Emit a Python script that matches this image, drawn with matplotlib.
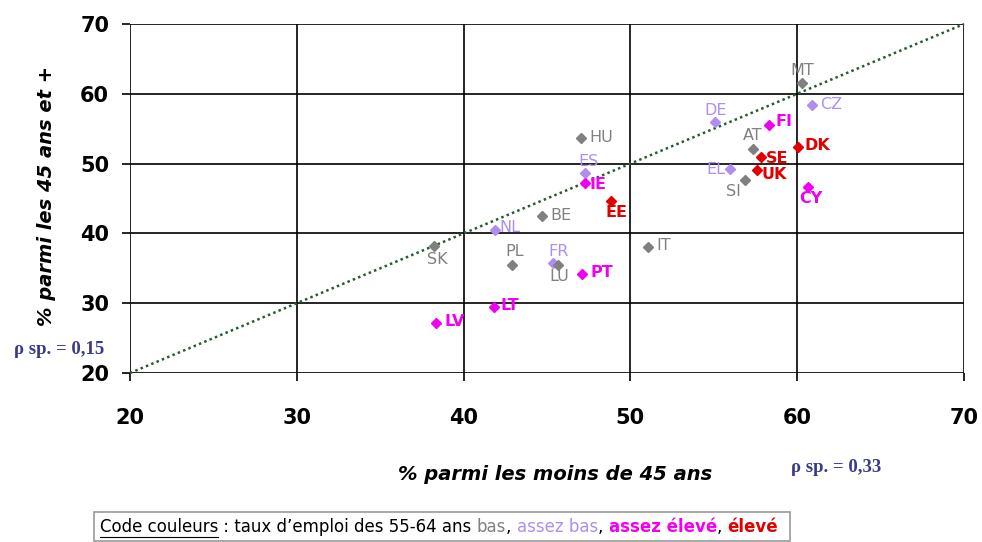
import numpy as np
import matplotlib
matplotlib.use("Agg")
import matplotlib.pyplot as plt

# data
countries = ["MT", "CZ", "DE", "FI", "AT", "DK", "SE", "EL", "UK", "SI", "CY",
             "HU", "ES", "IE", "EE", "BE", "NL", "SK", "PL", "FR", "LU", "PT",
             "IT", "LT", "LV"]
under45 = [60.3, 60.9, 55.1, 58.3, 57.35, 60.05, 57.8, 56.0, 57.6, 56.9, 60.65,
           47.05, 47.3, 47.3, 48.85, 44.7, 41.9, 38.2, 42.9, 45.35, 45.65, 47.1,
           51.05, 41.8, 38.35]
over45 = [61.5, 58.4, 56.0, 55.5, 52.1, 52.4, 50.9, 49.2, 49.1, 47.65, 46.6,
          53.7, 48.65, 47.2, 44.6, 42.5, 40.5, 38.2, 35.5, 35.75, 35.5, 34.2,
          38.05, 29.5, 27.2]
# employment rate class of 55-64: 0 bas, 1 assez bas, 2 assez eleve, 3 eleve
groups = [0, 1, 1, 2, 0, 3, 3, 1, 3, 0, 2,
          0, 1, 2, 3, 0, 1, 0, 0, 1, 0, 2,
          0, 2, 2]
group_names = ["bas", "assez bas", "assez élevé", "élevé"]
ticks = [20, 30, 40, 50, 60, 70]

colors = ["#808080", "#b08ef0", "#f000f0", "#e00000"]

# label offsets in points (dx, dy, ha, va)
offsets = {
    "MT": (0, 4, "center", "bottom"), "CZ": (6, 0, "left", "center"),
    "DE": (0, 3, "center", "bottom"), "FI": (5, 3, "left", "center"),
    "AT": (0, 4, "center", "bottom"), "DK": (5, 1, "left", "center"),
    "SE": (4, -1, "left", "center"), "EL": (-4, 0, "right", "center"),
    "UK": (3, -3, "left", "center"), "SI": (-3, -3, "right", "top"),
    "CY": (2, -3, "center", "top"), "HU": (6, 0, "left", "center"),
    "ES": (2, 3, "center", "bottom"), "IE": (3, -1, "left", "center"),
    "EE": (4, -3, "center", "top"), "BE": (6, 0, "left", "center"),
    "NL": (3, 2, "left", "center"), "SK": (3, -4, "center", "top"),
    "PL": (2, 4, "center", "bottom"), "FR": (4, 3, "center", "bottom"),
    "LU": (1, -3, "center", "top"), "PT": (6, 1, "left", "center"),
    "IT": (6, 1, "left", "center"), "LT": (5, 1, "left", "center"),
    "LV": (6, 1, "left", "center"),
}

fig = plt.figure(figsize=(9.82, 5.42), dpi=100)
ax = fig.add_axes([130 / 982, 1 - 373 / 542, 834 / 982, 349 / 542])

ax.plot([20, 70], [20, 70], linestyle=(0, (1, 1.3)), color="#2a5a30",
        linewidth=1.8, clip_on=False, zorder=2)

for c, x, y, g in zip(countries, under45, over45, groups):
    ax.plot(x, y, marker="D", markersize=5, color=colors[g], zorder=3,
            linestyle="none")
    dx, dy, ha, va = offsets[c]
    ax.annotate(c, (x, y), xytext=(dx, dy), textcoords="offset points",
                ha=ha, va=va, fontsize=11.5, color=colors[g],
                fontweight="bold" if g >= 2 else "normal", zorder=4)

ax.set_xlim(20, 70)
ax.set_ylim(20, 70)
ax.set_xticks(ticks)
ax.set_yticks(ticks)
ax.grid(True, color="black", linewidth=1.2)
ax.set_axisbelow(True)
for s in ax.spines.values():
    s.set_visible(False)
ax.tick_params(axis="y", length=6, width=1.2, labelsize=15, pad=9)
ax.tick_params(axis="x", length=6, width=1.2, labelsize=15, pad=19)
for lab in ax.get_xticklabels() + ax.get_yticklabels():
    lab.set_fontweight("semibold")

fig.text(555 / 982, 1 - 475 / 542, "% parmi les moins de 45 ans",
         ha="center", va="center", fontsize=14, style="italic",
         fontweight="bold")
fig.text(47 / 982, 1 - 196 / 542, "% parmi les 45 ans et +", ha="center",
         va="center", fontsize=14, style="italic", fontweight="bold",
         rotation=90)
fig.text(59 / 982, 1 - 350 / 542, "ρ sp. = 0,15", ha="center", va="center",
         fontsize=13.5, family="Liberation Serif", fontweight="bold",
         color="#3a3a8a")
fig.text(836 / 982, 1 - 468 / 542, "ρ sp. = 0,33", ha="center", va="center",
         fontsize=13.5, family="Liberation Serif", fontweight="bold",
         color="#3a3a8a")

# colour code box
renderer = fig.canvas.get_renderer()
pieces = [("Code couleurs", "black", "normal"),
          (" : taux d’emploi des 55-64 ans ", "black", "normal")]
for i, name in enumerate(group_names):
    pieces.append((name, colors[i], "bold" if i >= 2 else "normal"))
    if i < len(group_names) - 1:
        pieces.append((", ", "black", "normal"))

x0 = 100
ytxt = 1 - 527 / 542
xpix = x0
for k, (txt, col, w) in enumerate(pieces):
    t = fig.text(xpix / 982, ytxt, txt, fontsize=12, color=col, fontweight=w,
                 ha="left", va="center")
    bb = t.get_window_extent(renderer)
    if k == 0:
        fig.add_artist(plt.Line2D([bb.x0 / 982, bb.x1 / 982],
                                  [(bb.y0 - 1) / 542, (bb.y0 - 1) / 542],
                                  color="black", linewidth=0.8))
    xpix = bb.x1
fig.add_artist(plt.Rectangle((94 / 982, 1 - 541 / 542), (xpix + 12 - 94) / 982,
                             29 / 542, fill=False, edgecolor="#999999",
                             linewidth=1.2))

fig.savefig("out.png", dpi=100)
